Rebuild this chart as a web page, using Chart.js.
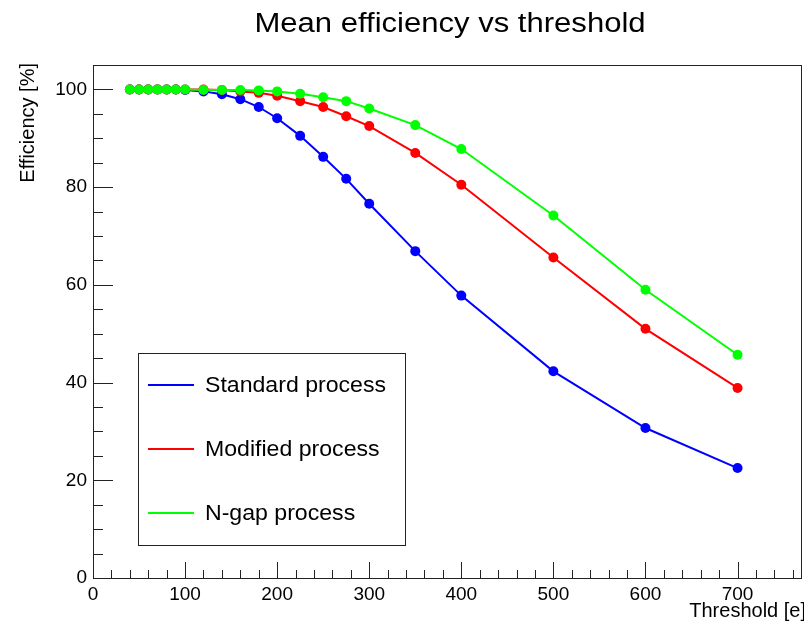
<!DOCTYPE html>
<html>
<head>
<meta charset="utf-8">
<title>Mean efficiency vs threshold</title>
<script src="https://cdn.jsdelivr.net/npm/chart.js@4.4.0/dist/chart.umd.min.js"></script>
<style>
  body { margin: 0; background: #fff; }
</style>
</head>
<body>
<canvas id="effChart" width="804" height="621"></canvas>
<script>

// threshold scan [e] and mean efficiency [%] per process
const thresholds = [40, 50, 60, 70, 80, 90, 100, 120, 140, 160, 180, 200, 225, 250, 275, 300, 350, 400, 500, 600, 700];
const standardEff = [100, 100, 100, 100, 100, 100, 99.9, 99.6, 99.0, 98.0, 96.4, 94.1, 90.5, 86.2, 81.7, 76.6, 66.9, 57.8, 42.3, 30.7, 22.5];
const modifiedEff = [100, 100, 100, 100, 100, 100, 100, 100, 99.9, 99.6, 99.3, 98.7, 97.6, 96.4, 94.5, 92.5, 87.0, 80.5, 65.6, 51.0, 38.9];
const ngapEff = [100, 100, 100, 100, 100, 100, 100, 99.9, 99.9, 99.9, 99.8, 99.6, 99.1, 98.4, 97.6, 96.1, 92.7, 87.8, 74.2, 59.0, 45.7];

const seriesNames = ["Standard process", "Modified process", "N-gap process"];
const seriesColors = ["#0000ff", "#ff0000", "#00ff00"];

const xTicks = [0, 100, 200, 300, 400, 500, 600, 700];
const yTicks = [0, 20, 40, 60, 80, 100];

const FONT = "'Liberation Sans', Arial, Helvetica, sans-serif";

function makeSet(i, values, order) {
  return {
    label: seriesNames[i],
    data: thresholds.map((x, k) => ({ x: x, y: values[k] })),
    borderColor: seriesColors[i],
    backgroundColor: seriesColors[i],
    borderWidth: 2,
    pointRadius: 5,
    pointBorderWidth: 0,
    pointHoverRadius: 5,
    tension: 0,
    order: order
  };
}

// ROOT-like frame: box, inner ticks, titles and a boxed legend
const rootFrame = {
  id: 'rootFrame',
  beforeDatasetsDraw(chart) {
    const ctx = chart.ctx, a = chart.chartArea;
    const xs = chart.scales.x, ys = chart.scales.y;
    ctx.save();
    ctx.strokeStyle = '#222';
    ctx.lineWidth = 1;
    ctx.strokeRect(a.left + 0.5, a.top + 0.5, a.right - a.left - 1, a.bottom - a.top);

    ctx.beginPath();
    for (let v = 0; v <= xs.max; v += 20) {
      const px = Math.round(xs.getPixelForValue(v)) + 0.5;
      const len = v % 100 === 0 ? 16 : 8;
      ctx.moveTo(px, a.bottom);
      ctx.lineTo(px, a.bottom - len);
    }
    for (let v = 0; v <= ys.max; v += 5) {
      const py = Math.round(ys.getPixelForValue(v)) + 0.5;
      const len = v % 20 === 0 ? 20 : 10;
      ctx.moveTo(a.left, py);
      ctx.lineTo(a.left + len, py);
    }
    ctx.stroke();
    ctx.restore();
  },
  afterDraw(chart) {
    const ctx = chart.ctx;
    ctx.save();
    ctx.fillStyle = '#000';

    // title, slightly widened like the ROOT font
    ctx.font = '27px ' + FONT;
    ctx.textAlign = 'center';
    ctx.textBaseline = 'alphabetic';
    ctx.save();
    ctx.translate(450, 32);
    ctx.scale(1.15, 1);
    ctx.fillText('Mean efficiency vs threshold', 0, 0);
    ctx.restore();

    // axis titles
    ctx.font = '20px ' + FONT;
    ctx.textAlign = 'right';
    ctx.fillText('Threshold [e]', 806, 617);
    ctx.save();
    ctx.translate(34, 63);
    ctx.rotate(-Math.PI / 2);
    ctx.fillText('Efficiency [%]', 0, 0);
    ctx.restore();

    // legend box
    ctx.fillStyle = '#fff';
    ctx.fillRect(138.5, 353.5, 267, 192);
    ctx.strokeStyle = '#222';
    ctx.lineWidth = 1;
    ctx.strokeRect(138.5, 353.5, 267, 192);
    ctx.font = '22px ' + FONT;
    ctx.textAlign = 'left';
    chart.data.datasets.forEach((ds, i) => {
      const y = 385 + i * 64;
      ctx.strokeStyle = ds.borderColor;
      ctx.lineWidth = 2;
      ctx.beginPath();
      ctx.moveTo(148, y);
      ctx.lineTo(194, y);
      ctx.stroke();
      ctx.fillStyle = '#000';
      ctx.save();
      ctx.translate(205, y + 7);
      ctx.scale(1.05, 1);
      ctx.fillText(ds.label, 0, 0);
      ctx.restore();
    });
    ctx.restore();
  }
};

new Chart(document.getElementById('effChart'), {
  type: 'line',
  data: {
    datasets: [
      makeSet(0, standardEff, 2),
      makeSet(1, modifiedEff, 1),
      makeSet(2, ngapEff, 0)
    ]
  },
  options: {
    responsive: false,
    animation: false,
    events: [],
    layout: { autoPadding: false, padding: { top: 65, right: 2, left: 0, bottom: 0 } },
    plugins: {
      legend: { display: false },
      title: { display: false },
      tooltip: { enabled: false }
    },
    scales: {
      x: {
        type: 'linear',
        min: 0,
        max: 770,
        grid: { display: false, drawTicks: false },
        border: { display: false },
        afterBuildTicks: s => { s.ticks = xTicks.map(v => ({ value: v })); },
        afterFit: s => { s.height = 43; },
        ticks: {
          padding: 5,
          maxRotation: 0,
          autoSkip: false,
          color: '#000',
          font: { family: FONT, size: 19 }
        }
      },
      y: {
        type: 'linear',
        min: 0,
        max: 105,
        grid: { display: false, drawTicks: false },
        border: { display: false },
        afterBuildTicks: s => { s.ticks = yTicks.map(v => ({ value: v })); },
        afterFit: s => { s.width = 93; },
        ticks: {
          padding: 6,
          autoSkip: false,
          color: '#000',
          font: { family: FONT, size: 19 }
        }
      }
    }
  },
  plugins: [rootFrame]
});
</script>
</body>
</html>
